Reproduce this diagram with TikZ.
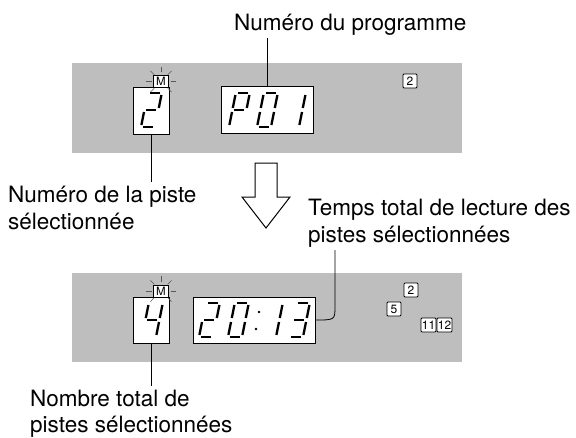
\documentclass[tikz,border=0pt]{standalone}
\usepackage{fontspec}
\setmainfont{TeX Gyre Heros}
\usetikzlibrary{calc}
\definecolor{panelgray}{RGB}{190,190,190}

% un chiffre a sept segments, #1 = coin bas gauche, #2 = segments allumes
\newcommand\lcddigit[2]{%
  \begin{scope}[shift={#1},xslant=0.2]
    \coordinate (a1) at (2,-34);  \coordinate (a2) at (12,-34);
    \coordinate (b1) at (14,-32); \coordinate (b2) at (14,-19);
    \coordinate (c1) at (14,-15); \coordinate (c2) at (14,-2);
    \coordinate (d1) at (2,0);    \coordinate (d2) at (12,0);
    \coordinate (e1) at (0,-2);   \coordinate (e2) at (0,-15);
    \coordinate (f1) at (0,-19);  \coordinate (f2) at (0,-32);
    \coordinate (g1) at (2,-17);  \coordinate (g2) at (12,-17);
    \foreach \s in {#2}
      \draw[lcdseg] (\s1) -- (\s2);
  \end{scope}}

\begin{document}
\begin{tikzpicture}[x=1pt,y=-1pt,
  panel/.style={fill=panelgray,draw=none,inner sep=0pt},
  lcdbox/.style={draw=black,fill=white,line width=0.9pt,inner sep=0pt},
  lcdseg/.style={line width=2.3pt},
  mbox/.style={draw=black,fill=white,line width=0.7pt,inner sep=0pt,
    minimum width=15pt,minimum height=12pt,font=\fontsize{11.5}{11.5}\selectfont},
  trk/.style={draw=black,fill=white,line width=0.9pt,rounded corners=1pt,
    inner sep=0pt,minimum height=14pt,minimum width=14pt,font=\fontsize{12}{12}\selectfont},
  ray/.style={black!65,line width=0.6pt},
  lbl/.style={font=\fontsize{22.5}{27}\selectfont,inner xsep=0pt,inner ysep=3pt,anchor=base west},
  link/.style={line width=0.8pt}]
  \useasboundingbox (0,0) rectangle (576,437);
  % panneaux
  \node[panel,minimum width=390pt,minimum height=90pt] (paneltop) at (267,108) {};
  \node[panel,minimum width=390pt,minimum height=89pt] (panelbot) at (267,317.5) {};
  % afficheurs
  \node[lcdbox,minimum width=36pt,minimum height=47pt] (trackbox) at (151,110.5) {};
  \node[lcdbox,minimum width=92pt,minimum height=47pt] (progbox) at (267,110) {};
  \node[lcdbox,minimum width=36pt,minimum height=46pt] (countbox) at (151.5,320) {};
  \node[lcdbox,minimum width=122pt,minimum height=46pt] (timebox) at (254,320) {};
  % segments
  \lcddigit{(141,127)}{a,b,g,e,d}
  \lcddigit{(229,127)}{a,b,f,g,e}
  \lcddigit{(257,127)}{a,b,c,d,e,f}
  \lcddigit{(285,127)}{b,c}
  \lcddigit{(142,337)}{f,g,b,c}
  \lcddigit{(199,337)}{a,b,g,e,d}
  \lcddigit{(228,337)}{a,b,c,d,e,f}
  \lcddigit{(262,337)}{b,c}
  \lcddigit{(289,337)}{a,b,g,c,d}
  \fill (259,312) circle (1.4);
  \fill (256,329) circle (1.4);
  % indicateur M
  \node[mbox] (mtop) at (161,81.5) {M};
  \node[mbox] (mbot) at (161,291) {M};
  \foreach \m in {mtop,mbot}
    \foreach \a in {0,45,135,180,225,270,315}
      \draw[ray] ($(\m)+(\a:9.5)$) -- ($(\m)+(\a:15)$);
  % numeros de plage
  \node[trk] (trka) at (410,81) {2};
  \node[trk] (trkb) at (411,290) {2};
  \node[trk] (trkc) at (394,309) {5};
  \node[trk,minimum width=15pt] (trkd) at (428.5,325) {11};
  \node[trk,minimum width=15pt] (trke) at (444.5,325) {12};
  % fleche
  \draw[line width=1pt,fill=white] (255,163) -- (277,163) -- (277,197) -- (290,197)
    -- (266,228) -- (242,197) -- (255,197) -- cycle;
  % etiquettes
  \node[lbl] (proglbl) at (234,30) {Numéro du programme};
  \node[lbl] (pistea) at (8,202) {Numéro de la piste};
  \node[lbl] (pisteb) at (8,229) {sélectionnée};
  \node[lbl] (tempsa) at (308,215) {Temps total de lecture des};
  \node[lbl] (tempsb) at (308,242) {pistes sélectionnées};
  \node[lbl] (nombrea) at (30,406) {Nombre total de};
  \node[lbl] (nombreb) at (30,432) {pistes sélectionnées};
  % traits
  \draw[link] (progbox.north) -- (progbox.north |- proglbl.south);
  \draw[link] (trackbox.south) -- (trackbox.south |- pistea.north);
  \draw[link] (countbox.south) -- (countbox.south |- nombrea.north);
  \coordinate (bend) at (335,306);
  \draw[link] (timebox.east) .. controls (bend |- timebox.east) .. (bend) -- (bend |- tempsb.south);
\end{tikzpicture}
\end{document}
